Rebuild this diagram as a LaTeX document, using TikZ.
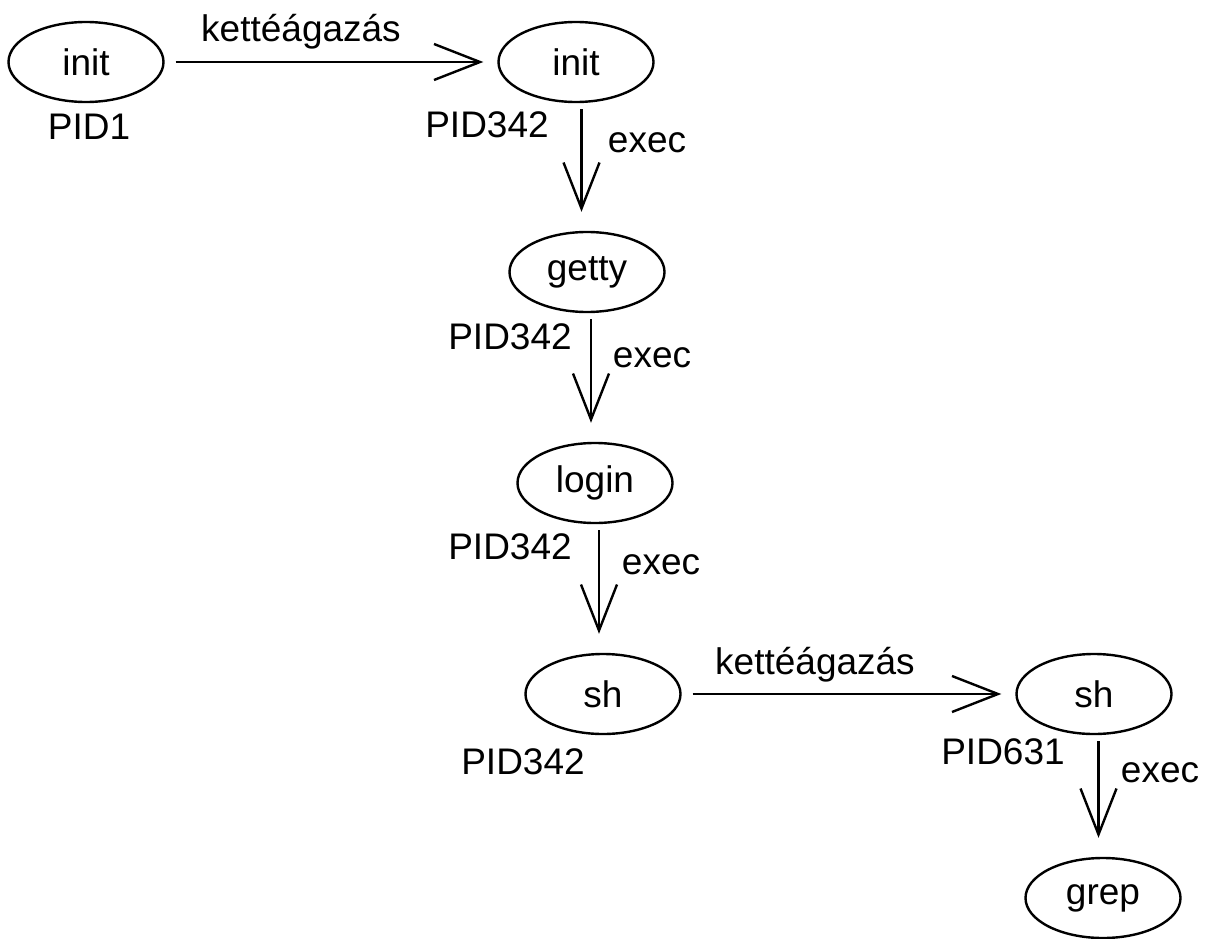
\documentclass[tikz,border=0pt]{standalone}
\usepackage{fontspec}
\setmainfont{Liberation Sans}
\usetikzlibrary{arrows.meta,calc,shapes.geometric}
\begin{document}
\begin{tikzpicture}[x=1pt,y=-1pt,
  proc/.style={draw, ellipse, line width=2.4pt, minimum width=155pt, minimum height=80pt, inner sep=0pt, font=\fontsize{37}{44}\selectfont},
  lbl/.style={inner sep=0pt, font=\fontsize{37}{44}\selectfont},
  arr/.style={line width=2.4pt, -{Straight Barb[length=46pt,width=36pt]}},
  harr/.style={arr, shorten <=11pt, shorten >=14pt},
  varr/.style={arr, shorten <=6pt, shorten >=19pt}]
\useasboundingbox (0,0) rectangle (1205,939);

\node[proc] (init1) at (86,62) {init};
\node[proc] (init2) at (576,62) {init};
\node[proc] (getty) at (587,272) {getty};
\node[proc] (login) at (595,483) {login};
\node[proc] (sh1) at (603,694) {sh};
\node[proc] (sh2) at (1094,694) {sh};
\node[proc] (grep) at (1103,898) {grep};

\node[lbl] (p1) at (89,127) {PID1};
\node[lbl] (p2) at (487,125) {PID342};
\node[lbl] (p3) at (510,337) {PID342};
\node[lbl] (p4) at (510,547) {PID342};
\node[lbl] (p5) at (523,762) {PID342};
\node[lbl] (p6) at (1003,752) {PID631};

\node[lbl, anchor=base] (k1) at (301,42) {kettéágazás};
\node[lbl, anchor=base] (k2) at (815,674) {kettéágazás};

\node[lbl] (e1) at (647,143) {exec};
\node[lbl] (e2) at (652,358) {exec};
\node[lbl] (e3) at (661,565) {exec};
\node[lbl] (e4) at (1160,773) {exec};

\draw[harr] (init1) -- (init2);
\draw[harr] (sh1) -- (sh2);

\coordinate (m1) at ($(init2)!.5!(getty)$);
\coordinate (m2) at ($(getty)!.5!(login)$);
\coordinate (m3) at ($(login)!.5!(sh1)$);
\coordinate (m4) at ($(sh2)!.5!(grep)$);
\draw[varr] (m1 |- init2.south) -- (m1 |- getty.north);
\draw[varr] (m2 |- getty.south) -- (m2 |- login.north);
\draw[varr] (m3 |- login.south) -- (m3 |- sh1.north);
\draw[varr] (m4 |- sh2.south) -- (m4 |- grep.north);
\end{tikzpicture}
\end{document}
